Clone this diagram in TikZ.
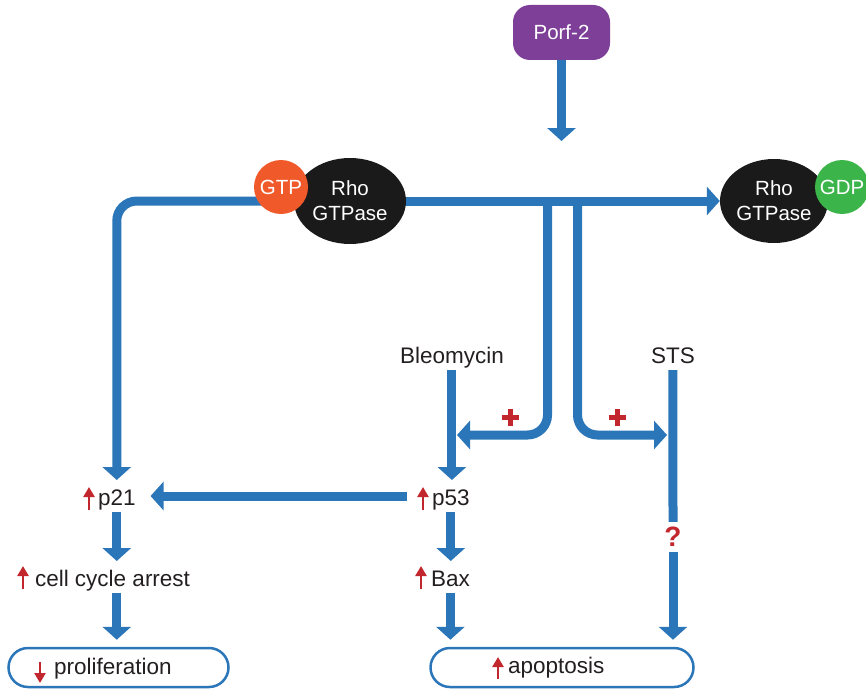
\documentclass[tikz,border=0pt]{standalone}
\usepackage{fontspec}
\setmainfont{Liberation Sans}
\usetikzlibrary{arrows.meta,shapes.geometric,calc}
\pgfdeclarelayer{bg}
\pgfsetlayers{bg,main}
\definecolor{myblue}{HTML}{2B75B9}
\definecolor{mypurple}{HTML}{7E3F98}
\definecolor{myorange}{HTML}{F05A2A}
\definecolor{mygreen}{HTML}{3BB44A}
\definecolor{myred}{HTML}{C1272D}
\definecolor{myblack}{HTML}{1A1A1A}
\definecolor{mytext}{HTML}{231F20}
\tikzset{
  conn/.style={draw=myblue, line width=9pt, -{Triangle[width=28pt,length=13pt]}},
  plainconn/.style={draw=myblue, line width=9pt},
  lbl/.style={anchor=base west, inner sep=0pt, outer sep=0pt, text height=25pt, text depth=7pt,
     font=\fontsize{22.5}{26}\selectfont, text=mytext},
  redarr/.style={draw=myred, line width=2.7pt, -{Triangle[width=11pt,length=10pt]}},
  plusbar/.style={draw=myred, line width=5pt},
  outbox/.style={draw=myblue, line width=2.5pt, rounded corners=19.5pt, minimum height=39pt, inner sep=0pt, fill=white},
  rho/.style={ellipse, fill=myblack, text=white, inner sep=0pt, align=center,
     font=\fontsize{20.5}{25}\selectfont},
  ball/.style={circle, inner sep=0pt, minimum size=54pt, text=white, font=\fontsize{20.5}{24}\selectfont},
}
\begin{document}
\begin{tikzpicture}[x=1pt,y=-1pt]
\useasboundingbox (0,0) rectangle (866,690);

% top
\node[fill=mypurple, rounded corners=17pt, minimum width=97pt, minimum height=55pt, inner sep=0pt,
      text=white, font=\fontsize{20.5}{24}\selectfont] (porf) at (561.5,32.5) {Porf-2};
\coordinate (porftip) at (561.5,141);

% Rho complexes
\node[rho, minimum width=112pt, minimum height=86pt] (rhoL) at (350,201) {Rho\\GTPase};
\node[ball, fill=myorange] (gtp) at (281,187) {GTP};
\node[rho, minimum width=108pt, minimum height=84pt] (rhoR) at (774,201) {Rho\\GTPase};
\node[ball, fill=mygreen] (gdp) at (842,187) {GDP};

% labels
\node[lbl] (bleo) at (400,363) {Bleomycin};
\node[lbl] (sts) at (651,363) {STS};
\node[lbl] (p21) at (98,505) {p21};
\node[lbl] (p53) at (432,505) {p53};
\node[lbl] (cca) at (35,586) {cell cycle arrest};
\node[lbl] (bax) at (431,586) {Bax};
\node[inner sep=0pt, minimum height=30pt, text=myred, font=\fontsize{28}{30}\selectfont\bfseries] (q) at (673,537) {?};

% bottom boxes
\node[outbox, minimum width=220pt] (prolifbox) at (118.5,667.5) {};
\node[outbox, minimum width=263pt] (apopbox) at (562,667.5) {};
\node[lbl] (prolif) at (54,674) {proliferation};
\node[lbl] (apop) at (508,673) {apoptosis};

\coordinate (jL) at (547.5,201);
\coordinate (jR) at (577.5,201);
\coordinate (tipL) at (457,435);
\coordinate (tipR) at (667,435);
\coordinate (plusL) at (510,417);
\coordinate (plusR) at (617,417);
\coordinate (prolftop) at ([yshift=7pt]prolifbox.north);
\coordinate (apoptop) at ([yshift=7pt]apopbox.north);

\begin{pgfonlayer}{bg}
\draw[conn] (porf.south) -- (porftip);
\draw[conn] (rhoL.center) -- (rhoR.west);
\draw[conn, rounded corners=20pt] (rhoL.center) -| (p21.north);
\draw[conn, rounded corners=20pt] (jL) |- (tipL);
\draw[conn, rounded corners=20pt] (jR) |- (tipR);
\end{pgfonlayer}

\draw[conn] (bleo.south) -- (bleo.south |- p53.north);
\draw[conn] (p53.south) -- (p53.south |- bax.north);
\draw[conn] (bax.south) -- (bax.south |- apoptop);
\draw[conn] ([xshift=-25pt]p53.west) -- ([xshift=15pt]p21.east);
\draw[conn] (p21.south) -- (p21.south |- cca.north);
\draw[conn] (p21.south |- cca.south) -- (p21.south |- prolftop);
\draw[plainconn] (sts.south) -- (q.north);
\draw[conn] (q.south) -- (q.south |- apoptop);

% plus signs
\draw[plusbar] ([xshift=-8.5pt]plusL) -- ([xshift=8.5pt]plusL) ([yshift=-8.5pt]plusL) -- ([yshift=8.5pt]plusL);
\draw[plusbar] ([xshift=-8.5pt]plusR) -- ([xshift=8.5pt]plusR) ([yshift=-8.5pt]plusR) -- ([yshift=8.5pt]plusR);

% red up/down arrows
\draw[redarr] ([xshift=-9pt,yshift=-5pt]p21.base west) -- ++(0,-23);
\draw[redarr] ([xshift=-9pt,yshift=-5pt]p53.base west) -- ++(0,-23);
\draw[redarr] ([xshift=-10pt,yshift=-3pt]bax.base west) -- ++(0,-23);
\draw[redarr] ([xshift=-12pt,yshift=-3pt]cca.base west) -- ++(0,-23);
\draw[redarr] ([xshift=-10pt,yshift=-6pt]apop.base west) -- ++(0,-22);
\draw[redarr] ([xshift=-14pt,yshift=12pt]prolif.base west) -- ++(0,21);
\end{tikzpicture}
\end{document}
